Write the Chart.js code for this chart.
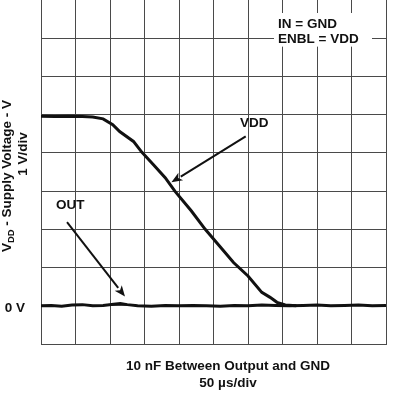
<!DOCTYPE html>
<html>
<head>
<meta charset="utf-8">
<script src="https://cdn.jsdelivr.net/npm/chart.js@4/dist/chart.umd.min.js"></script>
<style>
  html, body { margin: 0; padding: 0; background: #fff; }
  canvas { display: block; }
</style>
</head>
<body>
<canvas id="scope" width="394" height="402"></canvas>
<script>
// time axis in microseconds (50 us/div), voltage in volts (1 V/div)
const vddTime = [0, 20, 40, 60, 75, 90, 104, 114, 134, 146, 163, 180, 194, 218, 238, 259, 279, 300, 320, 332, 342, 354, 370];
const vddVolts = [4.96, 4.95, 4.96, 4.95, 4.94, 4.89, 4.74, 4.56, 4.30, 4.02, 3.69, 3.35, 3.00, 2.48, 2.00, 1.56, 1.13, 0.78, 0.35, 0.22, 0.09, 0.02, 0.0];

const outTime = [0, 15, 30, 45, 60, 75, 90, 105, 115, 125, 140, 160, 180, 200, 220, 240, 260, 280, 300, 320, 340, 360, 380, 400, 420, 440, 460, 480, 500, 512];
const outVolts = [0, 0.01, -0.01, 0.02, 0.03, 0, 0.01, 0.04, 0.06, 0.03, 0, -0.01, 0.01, 0, 0.01, 0, -0.01, 0.01, 0, 0.02, 0.01, 0, 0.01, 0.02, 0, 0.01, 0.02, 0, 0.01, 0.01];

const xTicks = { min: 0, max: 500, step: 50 };
const yTicks = { min: -1, max: 8, step: 1 };

const FONT = "'Liberation Sans', Arial, Helvetica, sans-serif";
const INK = '#111';
const GRID = '#4a4a4a';

const toPoints = (xs, ys) => xs.map((x, i) => ({ x, y: ys[i] }));

function arrow(ctx, x1, y1, x2, y2) {
  const ang = Math.atan2(y2 - y1, x2 - x1);
  const len = 11, half = 4.5;
  const bx = x2 - len * Math.cos(ang), by = y2 - len * Math.sin(ang);
  ctx.beginPath();
  ctx.moveTo(x1, y1);
  ctx.lineTo(bx, by);
  ctx.lineWidth = 2;
  ctx.strokeStyle = INK;
  ctx.stroke();
  ctx.beginPath();
  ctx.moveTo(x2, y2);
  ctx.lineTo(bx - half * Math.sin(ang), by + half * Math.cos(ang));
  ctx.lineTo(bx + 3 * Math.cos(ang), by + 3 * Math.sin(ang));
  ctx.lineTo(bx + half * Math.sin(ang), by - half * Math.cos(ang));
  ctx.closePath();
  ctx.fillStyle = INK;
  ctx.fill();
}

const labelsPlugin = {
  id: 'scopeLabels',
  afterDraw(chart) {
    const { ctx, chartArea: a, scales: { x, y } } = chart;
    const px = (t) => x.getPixelForValue(t), py = (v) => y.getPixelForValue(v);
    ctx.save();

    // condition box (white behind text, breaks grid)
    ctx.fillStyle = '#fff';
    ctx.fillRect(px(337.7), py(7.66), px(479.7) - px(337.7), py(6.78) - py(7.66));
    ctx.fillStyle = INK;
    ctx.font = `bold 13.5px ${FONT}`;
    ctx.textAlign = 'left';
    ctx.textBaseline = 'alphabetic';
    ctx.fillText('IN = GND', px(343.5), py(7.26));
    ctx.fillText('ENBL = VDD', px(343.5), py(6.87));

    // trace labels + arrows
    ctx.fillText('VDD', px(288.4), py(4.69));
    arrow(ctx, px(296.7), py(4.43), px(189), py(3.23));
    ctx.fillText('OUT', px(21.7), py(2.54));
    arrow(ctx, px(37.7), py(2.19), px(121.7), py(0.24));

    // 0 V marker
    ctx.textAlign = 'right';
    ctx.fillText('0 V', a.left - 16, py(0) + 6.5);

    // bottom captions
    ctx.textAlign = 'center';
    ctx.fillText('10 nF Between Output and GND', 228, 370);
    ctx.fillText('50 \u00b5s/div', 228, 387);

    // rotated y title
    ctx.save();
    ctx.translate(10.7, 176);
    ctx.rotate(-Math.PI / 2);
    ctx.textAlign = 'left';
    const big = `bold 13.5px ${FONT}`, small = `bold 9.5px ${FONT}`;
    ctx.font = big;
    const wV = ctx.measureText('V').width;
    const rest = ' - Supply Voltage - V';
    const wRest = ctx.measureText(rest).width;
    ctx.font = small;
    const wDD = ctx.measureText('DD').width;
    let cx = -(wV + wDD + wRest) / 2;
    ctx.font = big;
    ctx.fillText('V', cx, 0);
    cx += wV;
    ctx.font = small;
    ctx.fillText('DD', cx, 3);
    cx += wDD;
    ctx.font = big;
    ctx.fillText(rest, cx, 0);
    ctx.restore();

    ctx.save();
    ctx.translate(26.7, 154);
    ctx.rotate(-Math.PI / 2);
    ctx.textAlign = 'center';
    ctx.font = `bold 13.5px ${FONT}`;
    ctx.fillText('1 V/div', 0, 0);
    ctx.restore();

    ctx.restore();
  }
};

new Chart(document.getElementById('scope'), {
  type: 'line',
  data: {
    datasets: [
      { label: 'VDD', data: toPoints(vddTime, vddVolts), borderColor: INK, borderWidth: 3, pointRadius: 0, tension: 0, fill: false },
      { label: 'OUT', data: toPoints(outTime, outVolts), borderColor: INK, borderWidth: 3, pointRadius: 0, tension: 0, fill: false, clip: false },
    ],
  },
  options: {
    responsive: false,
    animation: false,
    devicePixelRatio: 1,
    layout: { padding: { left: 41, right: 8, top: 0, bottom: 58 } },
    plugins: { legend: { display: false }, tooltip: { enabled: false } },
    scales: {
      x: {
        type: 'linear', min: xTicks.min, max: xTicks.max,
        ticks: { display: false, stepSize: xTicks.step },
        grid: { color: GRID, lineWidth: 1, drawTicks: false },
        border: { color: GRID, width: 1 },
      },
      y: {
        type: 'linear', min: yTicks.min, max: yTicks.max,
        ticks: { display: false, stepSize: yTicks.step },
        grid: { color: (c) => (c.tick && c.tick.value === yTicks.max ? 'rgba(0,0,0,0)' : GRID), lineWidth: 1, drawTicks: false },
        border: { color: GRID, width: 1 },
      },
    },
  },
  plugins: [labelsPlugin],
});
</script>
</body>
</html>
